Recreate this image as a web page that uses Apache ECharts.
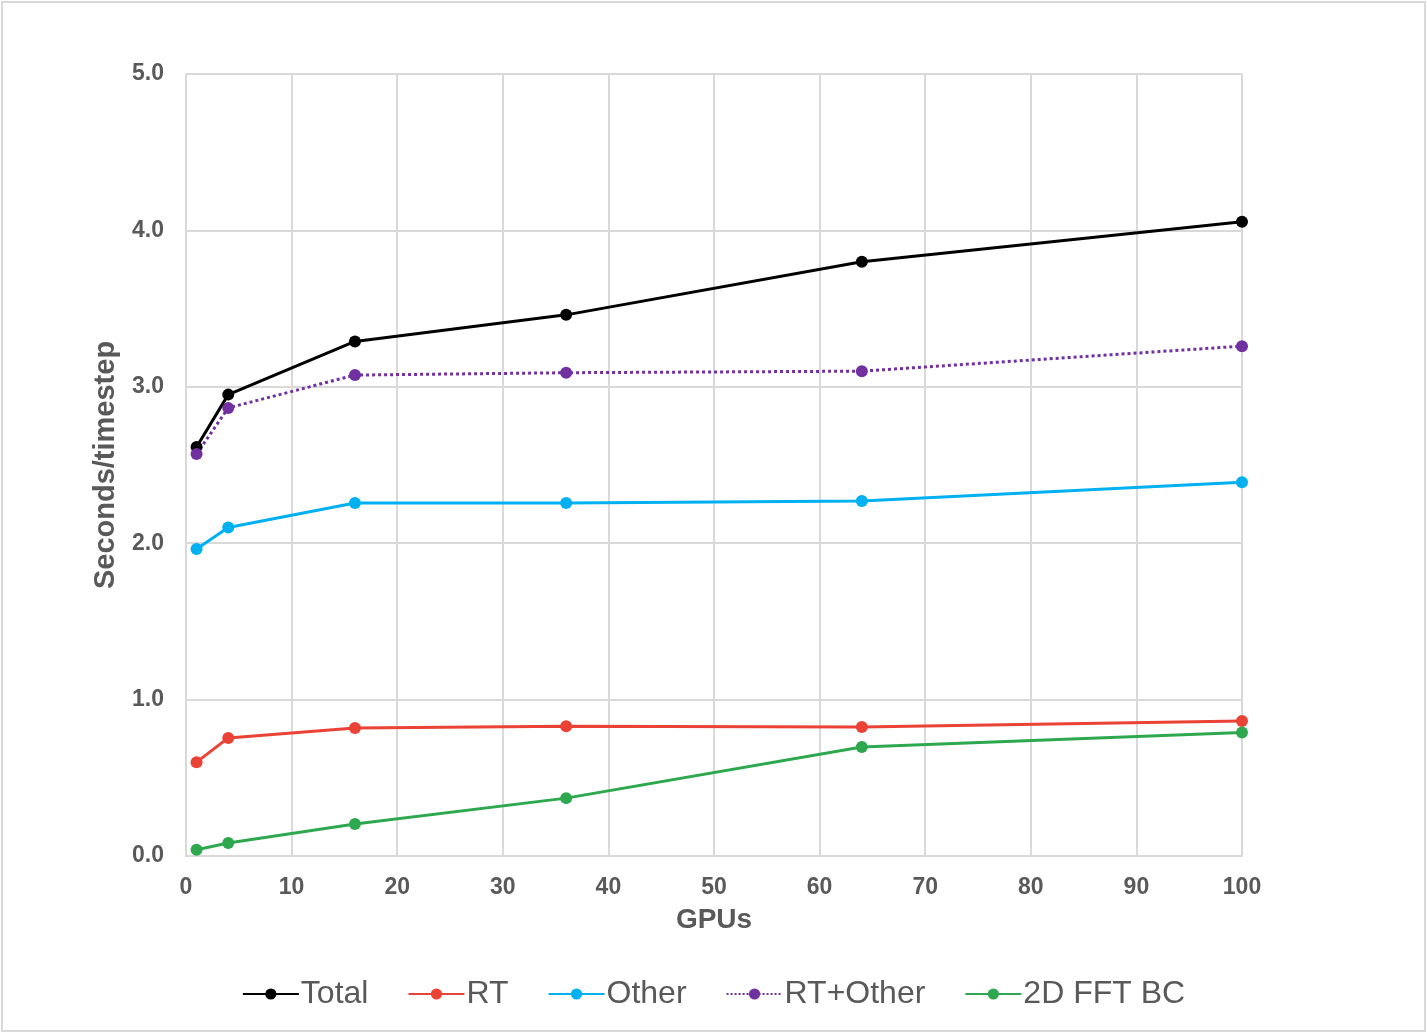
<!DOCTYPE html>
<html>
<head>
<meta charset="utf-8">
<script src="https://cdn.jsdelivr.net/npm/echarts@6/dist/echarts.min.js"></script>
<style>
html,body{margin:0;padding:0;background:#fff;}
#frame{position:absolute;left:1px;top:1px;width:1421px;height:1027px;border:2px solid #d9d9d9;}
#chart{position:absolute;left:0;top:0;width:1427px;height:1033px;}
</style>
</head>
<body>
<div id="frame"></div>
<div id="chart"></div>
<script>
const gpus = [1, 4, 16, 36, 64, 100];
const total = [2.615, 2.95, 3.29, 3.46, 3.80, 4.055];
const rt = [0.60, 0.755, 0.818, 0.83, 0.825, 0.863];
const other = [1.963, 2.10, 2.257, 2.257, 2.27, 2.39];
const rtOther = [2.57, 2.865, 3.075, 3.09, 3.10, 3.26];
const fft = [0.04, 0.083, 0.205, 0.37, 0.697, 0.79];
const yTicks = [0, 1, 2, 3, 4, 5];

const pair = arr => gpus.map((g, i) => [g, arr[i]]);
const mk = (name, arr, color, type) => ({
  name: name, type: 'line', data: pair(arr),
  symbol: 'circle', symbolSize: 12,
  itemStyle: {color: color},
  lineStyle: {color: color, width: 3, type: type || 'solid'},
  emphasis: {disabled: true}, animation: false
});

const FONT = 'Liberation Sans, Arial';
const chart = echarts.init(document.getElementById('chart'));
chart.setOption({
  animation: false,
  grid: {left: 186, right: 185, top: 74, bottom: 177},
  legend: {
    bottom: 18, left: 'center', itemWidth: 56, itemHeight: 14, itemGap: 39,
    textStyle: {fontSize: 32, color: '#595959', fontFamily: FONT, padding: [0,0,0,-3]},
    data: ['Total', 'RT', 'Other', 'RT+Other', '2D FFT BC']
  },
  xAxis: {
    type: 'value', min: 0, max: 100, interval: 10,
    name: 'GPUs', nameLocation: 'middle', nameGap: 50,
    nameTextStyle: {fontSize: 28, fontWeight: 'bold', color: '#595959', fontFamily: FONT},
    axisLine: {show: true, lineStyle: {color: '#d9d9d9', width: 2}},
    axisTick: {show: false},
    axisLabel: {fontSize: 23, fontWeight: 'bold', color: '#595959', margin: 20, fontFamily: FONT},
    splitLine: {show: true, lineStyle: {color: '#d9d9d9', width: 2}}
  },
  yAxis: {
    type: 'value', min: yTicks[0], max: yTicks[yTicks.length-1], interval: 1,
    name: 'Seconds/timestep', nameLocation: 'middle', nameGap: 66, nameRotate: 90,
    nameTextStyle: {fontSize: 29, fontWeight: 'bold', color: '#595959', fontFamily: FONT},
    axisLine: {show: true, lineStyle: {color: '#d9d9d9', width: 2}},
    axisTick: {show: false},
    axisLabel: {fontSize: 23, fontWeight: 'bold', color: '#595959', margin: 22, fontFamily: FONT,
      formatter: v => v.toFixed(1)},
    splitLine: {show: true, lineStyle: {color: '#d9d9d9', width: 2}}
  },
  series: [
    mk('Total', total, '#000000'),
    mk('RT', rt, '#ea4335'),
    mk('Other', other, '#00b0f0'),
    mk('RT+Other', rtOther, '#7030a0', 'dotted'),
    mk('2D FFT BC', fft, '#2ea84f')
  ]
});
</script>
</body>
</html>
